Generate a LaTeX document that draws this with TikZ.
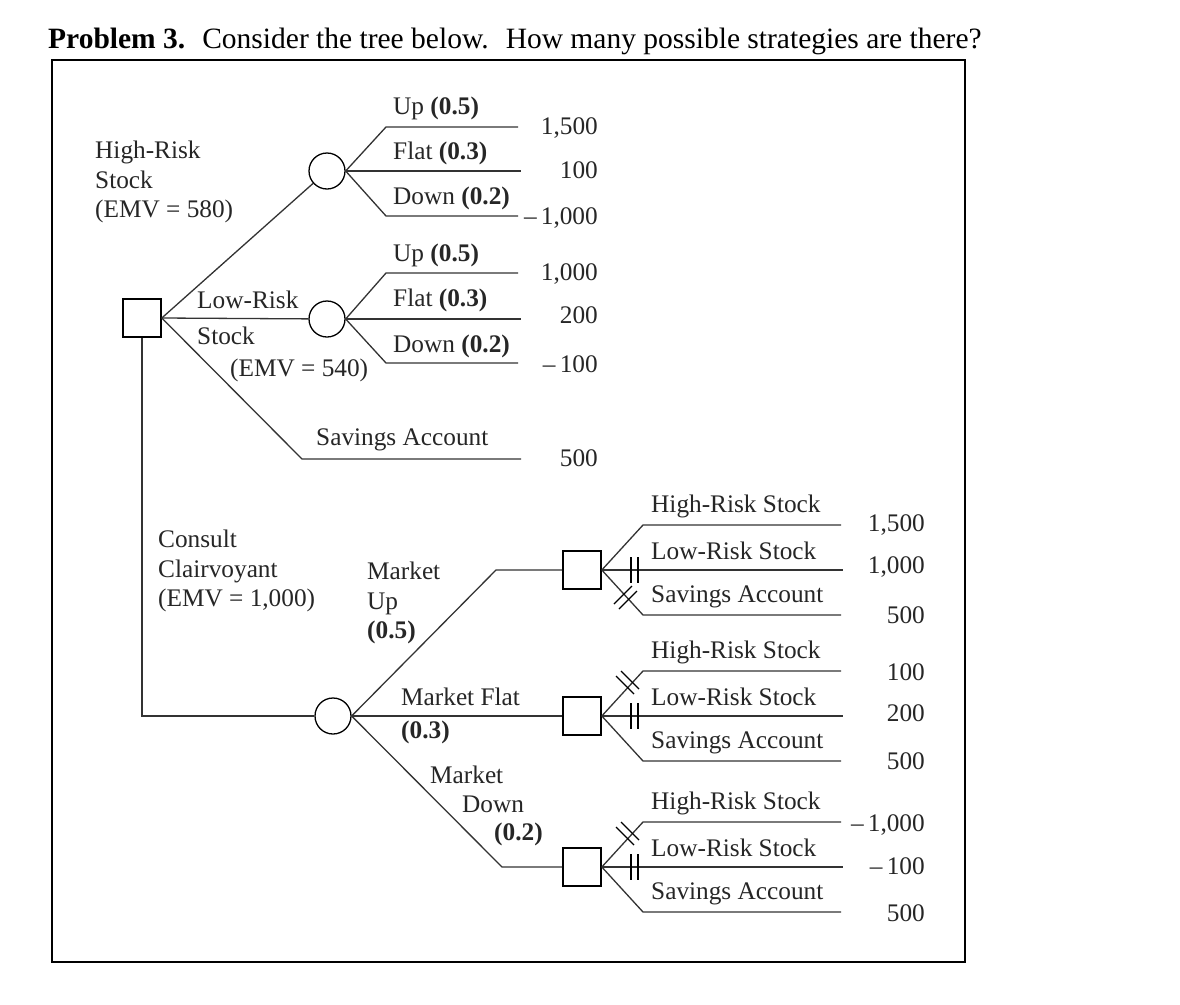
\documentclass[tikz,border=0pt]{standalone}
\usepackage{fontspec}
\setmainfont{Liberation Serif}
\begin{document}
\begin{tikzpicture}[x=1pt,y=-1pt,
  ln/.style={line width=1.3pt, draw=black!80},
  dec/.style={draw, line width=1.6pt, rectangle, minimum size=38pt, inner sep=0pt},
  chance/.style={draw, line width=1.3pt, circle, minimum size=36pt, inner sep=0pt},
  lbl/.style={anchor=west, inner sep=0pt, align=left, font=\fontsize{25.3}{29.5}\selectfont, text=black!85},
  pay/.style={anchor=east, inner sep=0pt, font=\fontsize{25.3}{29}\selectfont, text=black!85},
  hash/.style={line width=1.1pt}]
\useasboundingbox (0,0) rectangle (1180,1004);
\fill[white] (0,0) rectangle (1180,1004);
% title
\node[anchor=west, inner sep=0pt, font=\fontsize{29.5}{32}\selectfont] (title) at (48,41)
  {\textbf{Problem 3.}\hspace{17pt}Consider the tree below.\hspace{17pt}How many possible strategies are there?};
\draw[line width=2pt] (52,60) rectangle (965,962);

% nodes
\node[dec] (D0) at (142,318) {};
\node[chance] (C1) at (327,171) {};
\node[chance] (C2) at (327,319) {};
\node[chance] (C3) at (333,716) {};
\node[dec] (D1) at (582,570) {};
\node[dec] (D2) at (582,716) {};
\node[dec] (D3) at (582,867) {};

% coordinates
\coordinate (c1u) at (386,127); \coordinate (c1ue) at (518,127);
\coordinate (c1fe) at (521,171);
\coordinate (c1d) at (386,216); \coordinate (c1de) at (518,216);
\coordinate (c2u) at (386,273); \coordinate (c2ue) at (518,273);
\coordinate (c2fe) at (521,319);
\coordinate (c2d) at (386,363); \coordinate (c2de) at (518,363);
\coordinate (sa) at (302,459); \coordinate (sae) at (521,459);
\coordinate (corner) at (142,716);
\coordinate (c3u) at (496,570);
\coordinate (c3d) at (502,867);
\foreach \d/\y in {D1/570,D2/716,D3/867}{
  \coordinate (\d u) at (643,\y-45); \coordinate (\d ue) at (841,\y-45);
  \coordinate (\d m) at (843,\y);
  \coordinate (\d d) at (643,\y+45); \coordinate (\d de) at (841,\y+45);
}

% connectors upper tree
\draw[ln] (D0.east) -- (C1);
\draw[ln] (D0.east) -- (C2);
\draw[ln] (D0.east) -- (sa) -- (sae);
\draw[ln] (C1.east) -- (c1u) -- (c1ue);
\draw[ln] (C1.east) -- (c1fe);
\draw[ln] (C1.east) -- (c1d) -- (c1de);
\draw[ln] (C2.east) -- (c2u) -- (c2ue);
\draw[ln] (C2.east) -- (c2fe);
\draw[ln] (C2.east) -- (c2d) -- (c2de);
% lower tree
\draw[ln] (D0.south) -- (corner) -- (C3.west);
\draw[ln] (C3.east) -- (c3u) -- (D1.west);
\draw[ln] (C3.east) -- (D2.west);
\draw[ln] (C3.east) -- (c3d) -- (D3.west);
\foreach \d in {D1,D2,D3}{
  \draw[ln] (\d.east) -- (\d u) -- (\d ue);
  \draw[ln] (\d.east) -- (\d m);
  \draw[ln] (\d.east) -- (\d d) -- (\d de);
}

% hash marks (pruned branches)
\foreach \y in {570,716,867}{
  \draw[hash] (631,\y-13) -- (631,\y+13);
  \draw[hash] (638,\y-13) -- (638,\y+13);
}
% D1 savings (down branch)
\draw[hash] (614,604) -- (632,586);
\draw[hash] (619,609) -- (637,591);
% D2, D3 high-risk (up branch)
\foreach \y in {716,867}{
  \draw[hash] (616,\y-40) -- (634,\y-22);
  \draw[hash] (621,\y-45) -- (639,\y-27);
}

% labels upper
\node[lbl] (l1) at (95,182) {High-Risk\\Stock\\(EMV = 580)};
\node[lbl] (l2) at (197,300) {Low-Risk};
\node[lbl] (l3) at (197,336) {Stock};
\node[lbl] (l4) at (230,370) {(EMV = 540)};
\node[lbl] (l5) at (316,440) {Savings Account};
\node[lbl] (u1) at (393,108) {Up \textbf{(0.5)}};
\node[lbl] (f1) at (393,153) {Flat \textbf{(0.3)}};
\node[lbl] (d1) at (393,198) {Down \textbf{(0.2)}};
\node[lbl] (u2) at (393,255) {Up \textbf{(0.5)}};
\node[lbl] (f2) at (393,300) {Flat \textbf{(0.3)}};
\node[lbl] (d2) at (393,346) {Down \textbf{(0.2)}};
\node[pay] (p1) at (598,128) {1,500};
\node[pay] (p2) at (598,170) {100};
\node[pay] (p3) at (598,218) {–\,1,000};
\node[pay] (p4) at (598,274) {1,000};
\node[pay] (p5) at (598,315) {200};
\node[pay] (p6) at (598,364) {–\,100};
\node[pay] (p7) at (598,458) {500};

% labels lower
\node[lbl] (cc) at (158,571) {Consult\\Clairvoyant\\(EMV = 1,000)};
\node[lbl] (mu) at (367,603) {Market\\Up\\\textbf{(0.5)}};
\node[lbl] (mf) at (401,697) {Market Flat};
\node[lbl] (mf2) at (401,732) {\textbf{(0.3)}};
\node[lbl] (md1) at (430,775) {Market};
\node[lbl] (md2) at (462,804) {Down};
\node[lbl] (md3) at (494,834) {\textbf{(0.2)}};
\foreach \d/\y in {D1/570,D2/716,D3/867}{
  \node[lbl] at (651,\y-64) {High-Risk Stock};
  \node[lbl] at (651,\y-19) {Low-Risk Stock};
  \node[lbl] at (651,\y+27) {Savings Account};
}
\node[pay] (q1) at (925,525) {1,500};
\node[pay] (q2) at (925,567) {1,000};
\node[pay] (q3) at (925,615) {500};
\node[pay] (q4) at (925,672) {100};
\node[pay] (q5) at (925,713) {200};
\node[pay] (q6) at (925,761) {500};
\node[pay] (q7) at (925,825) {–\,1,000};
\node[pay] (q8) at (925,866) {–\,100};
\node[pay] (q9) at (925,913) {500};
\end{tikzpicture}
\end{document}
